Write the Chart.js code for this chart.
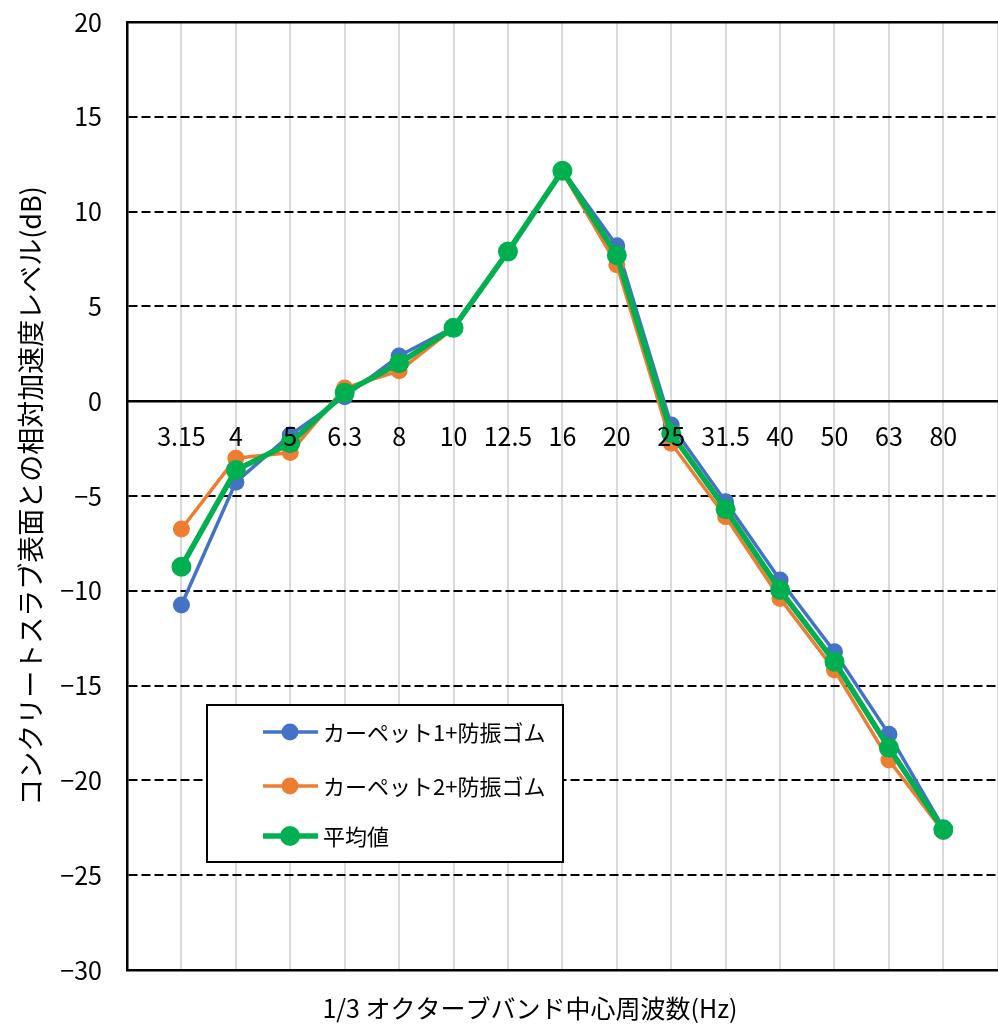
<!DOCTYPE html>
<html lang="ja">
<head>
  <meta charset="UTF-8">
  <title>相対加速度レベル</title>
  <script src="https://cdn.jsdelivr.net/npm/chart.js"></script>
  <style>
    html, body { margin: 0; padding: 0; overflow: hidden; background: #fff; }
    .wrap { position: relative; width: 1060px; height: 1029px; }
  </style>
</head>
<body>
  <div class="wrap">
    <canvas id="grafik"></canvas>
  </div>

  <script>
    // 1/3オクターブバンド中心周波数
    const bands = ['3.15', '4', '5', '6.3', '8', '10', '12.5', '16', '20', '25', '31.5', '40', '50', '63', '80'];

    // 系列名
    const seriesNames = ['カーペット1+防振ゴム', 'カーペット2+防振ゴム', '平均値'];

    // 相対加速度レベル (dB)
    const carpet1 = [-10.75, -4.27, -1.78, 0.24, 2.39, 3.90, 7.90, 12.20, 8.20, -1.25, -5.30, -9.43, -13.21, -17.56, -22.50];
    const carpet2 = [-6.74, -3.01, -2.71, 0.69, 1.60, 3.85, 7.88, 12.10, 7.20, -2.22, -6.09, -10.40, -14.18, -18.93, -22.70];
    const average = [-8.73, -3.63, -2.22, 0.45, 2.00, 3.87, 7.89, 12.15, 7.70, -1.69, -5.70, -9.96, -13.74, -18.28, -22.60];

    // 縦軸
    const yMin = -30, yMax = 20, yStep = 5;

    const toPoints = (vals) => vals.map((v, i) => ({ x: i + 1, y: v }));

    Chart.defaults.font.family = "'Noto Sans CJK JP', sans-serif";
    Chart.defaults.color = '#000';

    // 凡例（グラフ内の枠付き）
    const legendBox = {
      id: 'legendBox',
      afterDatasetsDraw(chart, args, opts) {
        const ctx = chart.ctx;
        ctx.save();
        ctx.fillStyle = '#fff';
        ctx.fillRect(opts.left, opts.top, opts.width, opts.height);
        ctx.strokeStyle = '#000';
        ctx.lineWidth = 2;
        ctx.strokeRect(opts.left, opts.top, opts.width, opts.height);
        ctx.font = "22px 'Noto Sans CJK JP'";
        ctx.textBaseline = 'middle';
        ctx.textAlign = 'left';
        chart.data.datasets.forEach((ds, i) => {
          const y = opts.rows[i];
          ctx.strokeStyle = ds.borderColor;
          ctx.lineWidth = ds.borderWidth;
          ctx.beginPath();
          ctx.moveTo(opts.left + 56, y);
          ctx.lineTo(opts.left + 111, y);
          ctx.stroke();
          ctx.fillStyle = ds.borderColor;
          ctx.beginPath();
          ctx.arc(opts.left + 83, y, ds.pointRadius, 0, Math.PI * 2);
          ctx.fill();
          ctx.fillStyle = '#000';
          ctx.fillText(ds.label, opts.left + 116, y + 1);
        });
        ctx.restore();
      }
    };

    const ctx = document.getElementById('grafik').getContext('2d');
    const chart = new Chart(ctx, {
      type: 'line',
      data: {
        datasets: [
          {
            label: seriesNames[0],
            data: toPoints(carpet1),
            borderColor: '#4472C4',
            backgroundColor: '#4472C4',
            borderWidth: 3.5,
            pointRadius: 8.5,
            pointBorderWidth: 0,
            order: 3
          },
          {
            label: seriesNames[1],
            data: toPoints(carpet2),
            borderColor: '#ED7D31',
            backgroundColor: '#ED7D31',
            borderWidth: 3.5,
            pointRadius: 8.5,
            pointBorderWidth: 0,
            order: 2
          },
          {
            label: seriesNames[2],
            data: toPoints(average),
            borderColor: '#00B050',
            backgroundColor: '#00B050',
            borderWidth: 5.5,
            pointRadius: 10,
            pointBorderWidth: 0,
            order: 1
          }
        ]
      },
      options: {
        animation: false,
        responsive: true,
        maintainAspectRatio: false,
        layout: { padding: { top: 22, left: 0, right: 0, bottom: 0 } },
        plugins: {
          legend: { display: false },
          tooltip: { enabled: false },
          title: {
            display: true,
            position: 'bottom',
            text: '1/3 オクターブバンド中心周波数(Hz)',
            font: { size: 25, weight: 'normal' },
            color: '#000',
            padding: { top: 23, bottom: 6 }
          },
          legendBox: { left: 207, top: 705, width: 356, height: 157, rows: [732, 786, 836] }
        },
        scales: {
          x: {
            type: 'linear',
            position: { y: 0 },
            min: 0,
            max: 16.96,
            grid: { color: '#D9D9D9', lineWidth: 2, drawTicks: false },
            border: { display: true, color: '#000', width: 2.5 },
            ticks: {
              stepSize: 1,
              autoSkip: false,
              includeBounds: false,
              maxRotation: 0,
              padding: 20,
              z: 1,
              font: { size: 25 },
              callback: (v) => bands[v - 1] ?? ''
            }
          },
          y: {
            type: 'linear',
            position: 'left',
            min: yMin,
            max: yMax,
            afterFit: (scale) => { scale.width = 127; },
            grid: { color: '#000', lineWidth: 2, drawTicks: true, tickLength: 25, tickColor: 'rgba(0,0,0,0)' },
            border: { display: true, color: '#000', width: 2.5, dash: [9, 4] },
            ticks: {
              stepSize: yStep,
              padding: 0,
              font: { size: 25 },
              callback: (v) => (v < 0 ? '\u2212' + Math.abs(v) : String(v))
            },
            title: {
              display: true,
              text: 'コンクリートスラブ表面との相対加速度レベル(dB)',
              font: { size: 27 },
              padding: { top: 15, bottom: 0 }
            }
          },
          xTop: {
            type: 'linear',
            position: 'top',
            min: 0,
            max: 16.96,
            grid: { display: false, drawTicks: false },
            border: { display: true, color: '#000', width: 2.5 },
            ticks: { display: false }
          },
          xBottom: {
            type: 'linear',
            position: 'bottom',
            min: 0,
            max: 16.96,
            grid: { display: false, drawTicks: false },
            border: { display: true, color: '#000', width: 2.5 },
            ticks: { display: false }
          }
        }
      },
      plugins: [legendBox]
    });
  </script>
</body>
</html>
